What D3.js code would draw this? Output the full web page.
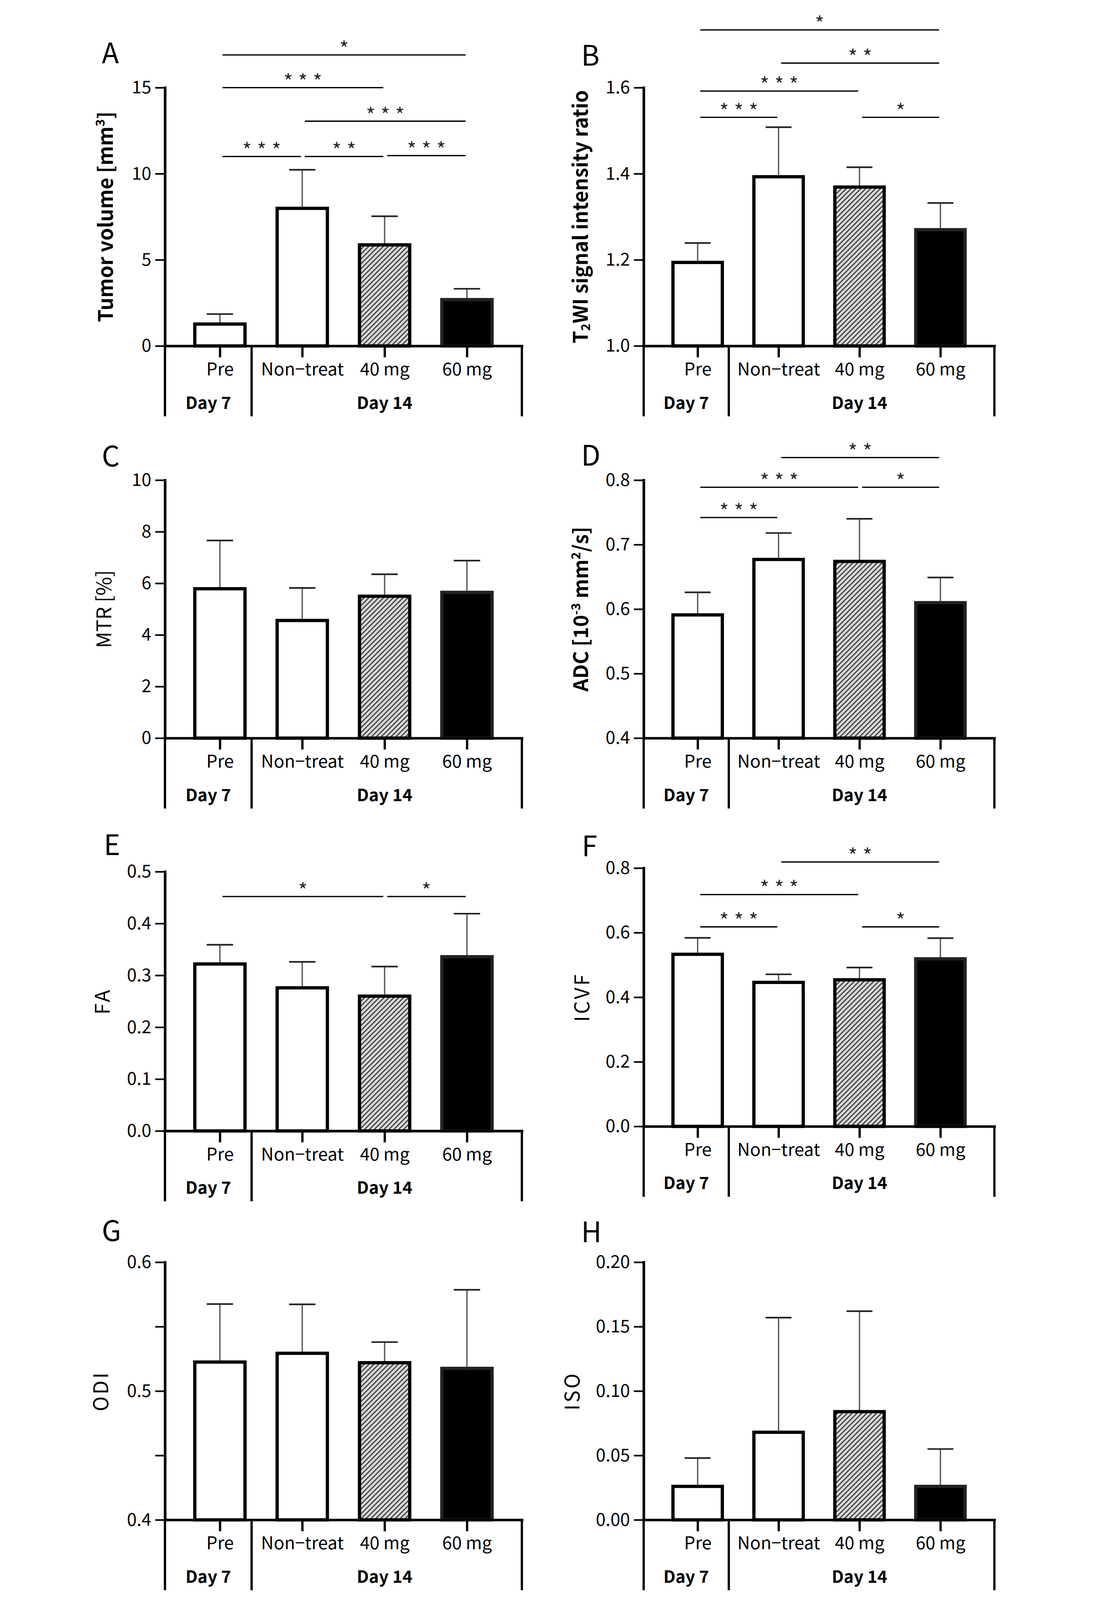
<!DOCTYPE html>
<html>
<head>
<meta charset="utf-8">
<script src="https://cdn.jsdelivr.net/npm/d3@7"></script>
<style>
  html, body { margin: 0; padding: 0; background: #fff; overflow: hidden; }
  text { font-family: 'Noto Sans CJK JP', 'Noto Sans', sans-serif; }
</style>
</head>
<body>
<div class="canvas"></div>
<script>
// categories
const groups = ['Pre', 'Non\u2212treat', '40 mg', '60 mg'];
const days = ['Day 7', 'Day 14'];

// A - tumor volume
const volumeMean = [1.27, 7.99, 5.87, 2.69];
const volumeSD = [0.58, 2.24, 1.66, 0.63];
const volumeTicks = [0, 5, 10, 15];
const volumeTickLabels = ['0', '5', '10', '15'];
const volumeSig = [[0, 3, 16.9, 1], [0, 2, 15.0, 3], [1, 3, 13.05, 3], [0, 1, 11.0, 3], [1, 2, 11.0, 2], [2, 3, 11.05, 3]];

// B - T2WI ratio
const t2Mean = [1.194, 1.393, 1.369, 1.270];
const t2SD = [0.045, 0.115, 0.046, 0.062];
const t2Ticks = [1.0, 1.2, 1.4, 1.6];
const t2TickLabels = ['1.0', '1.2', '1.4', '1.6'];
const t2Sig = [[0, 3, 1.734, 1], [1, 3, 1.657, 2], [0, 2, 1.592, 3], [0, 1, 1.531, 3], [2, 3, 1.531, 1]];

// C - MTR
const mtrMean = [5.79, 4.56, 5.50, 5.65];
const mtrSD = [1.87, 1.26, 0.85, 1.23];
const mtrTicks = [0, 2, 4, 6, 8, 10];
const mtrTickLabels = ['0', '2', '4', '6', '8', '10'];

// D - ADC
const adcMean = [0.591, 0.677, 0.674, 0.610];
const adcSD = [0.035, 0.041, 0.066, 0.039];
const adcTicks = [0.4, 0.5, 0.6, 0.7, 0.8];
const adcTickLabels = ['0.4', '0.5', '0.6', '0.7', '0.8'];
const adcSig = [[1, 3, 0.835, 2], [0, 2, 0.789, 3], [2, 3, 0.789, 1], [0, 1, 0.742, 3]];

// E - FA
const faMean = [0.322, 0.276, 0.260, 0.336];
const faSD = [0.037, 0.050, 0.057, 0.083];
const faTicks = [0, 0.1, 0.2, 0.3, 0.4, 0.5];
const faTickLabels = ['0.0', '0.1', '0.2', '0.3', '0.4', '0.5'];
const faSig = [[0, 2, 0.452, 1], [2, 3, 0.452, 1]];

// F - ICVF
const icvfMean = [0.533, 0.446, 0.454, 0.519];
const icvfSD = [0.051, 0.025, 0.038, 0.064];
const icvfTicks = [0, 0.2, 0.4, 0.6, 0.8];
const icvfTickLabels = ['0.0', '0.2', '0.4', '0.6', '0.8'];
const icvfSig = [[1, 3, 0.819, 2], [0, 2, 0.718, 3], [0, 1, 0.618, 3], [2, 3, 0.618, 1]];

// G - ODI
const odiMean = [0.5225, 0.5293, 0.522, 0.5176];
const odiSD = [0.045, 0.038, 0.016, 0.061];
const odiTicks = [0.4, 0.45, 0.5, 0.55, 0.6];
const odiTickLabels = ['0.4', '', '0.5', '', '0.6'];

// H - ISO
const isoMean = [0.026, 0.068, 0.084, 0.026];
const isoSD = [0.022, 0.089, 0.078, 0.029];
const isoTicks = [0, 0.05, 0.10, 0.15, 0.20];
const isoTickLabels = ['0.00', '0.05', '0.10', '0.15', '0.20'];

// drawing space; the svg is fitted into whatever the window gives
const width = 2827;
const height = 4882;
const topPad = 30; // room above the highest asterisk

const svg = d3.select('.canvas')
  .append('svg')
  .attr('width', window.innerWidth || width)
  .attr('height', window.innerHeight || height)
  .attr('viewBox', `0 ${-topPad} ${width} ${height + topPad}`)
  .attr('preserveAspectRatio', 'xMidYMin meet')
  .style('display', 'block');

svg.append('rect').attr('y', -topPad).attr('width', width).attr('height', height + topPad).attr('fill', '#fff');

// hatch for the 40 mg bars
const pat = svg.append('defs').append('pattern')
  .attr('id', 'hatch')
  .attr('patternUnits', 'userSpaceOnUse')
  .attr('width', 10.6)
  .attr('height', 10.6)
  .attr('patternTransform', 'rotate(45)');
pat.append('rect').attr('width', 10.6).attr('height', 10.6).attr('fill', '#dadada');
pat.append('line')
  .attr('x1', 2).attr('x2', 2).attr('y1', 0).attr('y2', 10.6)
  .attr('stroke', '#3c3c3c').attr('stroke-width', 3.6);

const barFills = ['#fff', '#fff', 'url(#hatch)', '#000'];

// column / row geometry
const cols = [{ x0: 225, x1: 1321 }, { x0: 1695, x1: 2772 }];

const panels = [
  { id: 'A', col: 0, top: 239, bottom: 1032, letterX: 31, letterY: 164, titleX: 65,
    mean: volumeMean, sd: volumeSD, domain: [0, 15], ticks: volumeTicks, tickLabels: volumeTickLabels, sig: volumeSig,
    title: [['Tumor volume [mm'], ['3', 'sup'], [']']], bold: true },
  { id: 'B', col: 1, top: 239, bottom: 1032, letterX: 1503, letterY: 172, titleX: 1523,
    mean: t2Mean, sd: t2SD, domain: [1.0, 1.6], ticks: t2Ticks, tickLabels: t2TickLabels, sig: t2Sig,
    title: [['T'], ['2', 'sub'], ['WI signal intensity ratio']], bold: true },
  { id: 'C', col: 0, top: 1444, bottom: 2236, letterX: 31, letterY: 1402, titleX: 60,
    mean: mtrMean, sd: mtrSD, domain: [0, 10], ticks: mtrTicks, tickLabels: mtrTickLabels, sig: [],
    title: [['MTR [%]']], bold: false, latin: true },
  { id: 'D', col: 1, top: 1444, bottom: 2236, letterX: 1503, letterY: 1399, titleX: 1525,
    mean: adcMean, sd: adcSD, domain: [0.4, 0.8], ticks: adcTicks, tickLabels: adcTickLabels, sig: adcSig,
    title: [['ADC [10'], ['-3', 'sup'], [' mm'], ['2', 'sup'], ['/s]']], bold: true },
  { id: 'E', col: 0, top: 2646, bottom: 3442, letterX: 37, letterY: 2595, titleX: 55,
    mean: faMean, sd: faSD, domain: [0, 0.5], ticks: faTicks, tickLabels: faTickLabels, sig: faSig,
    title: [['FA']], bold: false },
  { id: 'F', col: 1, top: 2635, bottom: 3428, letterX: 1505, letterY: 2599, titleX: 1528,
    mean: icvfMean, sd: icvfSD, domain: [0, 0.8], ticks: icvfTicks, tickLabels: icvfTickLabels, sig: icvfSig,
    title: [['ICVF']], bold: false },
  { id: 'G', col: 0, top: 3845, bottom: 4636, letterX: 31, letterY: 3780, titleX: 51,
    mean: odiMean, sd: odiSD, domain: [0.4, 0.6], ticks: odiTicks, tickLabels: odiTickLabels, sig: [],
    title: [['ODI']], bold: false },
  { id: 'H', col: 1, top: 3845, bottom: 4636, letterX: 1503, letterY: 3784, titleX: 1498,
    mean: isoMean, sd: isoSD, domain: [0, 0.2], ticks: isoTicks, tickLabels: isoTickLabels, sig: [],
    title: [['ISO']], bold: false }
];

const drawPanel = (p) => {
  const { x0, x1 } = cols[p.col];
  const g = svg.append('g').attr('class', 'panel-' + p.id);

  // scales
  const x = d3.scalePoint().domain(groups).range([x0, x1]).padding(0.667);
  const step = x.step();
  const y = d3.scaleLinear().domain(p.domain).range([p.bottom, p.top]);
  const barW = step * 0.61;
  const capW = step * 0.32;

  // error bars (upper only)
  const err = g.append('g').attr('class', 'errors');
  err.selectAll('line.stem')
    .data(groups)
    .join('line')
    .attr('class', 'stem')
    .attr('x1', d => x(d)).attr('x2', d => x(d))
    .attr('y1', (d, i) => y(p.mean[i]))
    .attr('y2', (d, i) => y(p.mean[i] + p.sd[i]))
    .attr('stroke', '#555')
    .attr('stroke-width', 4);
  err.selectAll('line.cap')
    .data(groups)
    .join('line')
    .attr('class', 'cap')
    .attr('x1', d => x(d) - capW / 2).attr('x2', d => x(d) + capW / 2)
    .attr('y1', (d, i) => y(p.mean[i] + p.sd[i]))
    .attr('y2', (d, i) => y(p.mean[i] + p.sd[i]))
    .attr('stroke', '#222')
    .attr('stroke-width', 5);

  // bars
  g.selectAll('rect.bar')
    .data(groups)
    .join('rect')
    .attr('class', 'bar')
    .attr('x', d => x(d) - barW / 2)
    .attr('y', (d, i) => y(p.mean[i]))
    .attr('width', barW)
    .attr('height', (d, i) => y(p.domain[0]) - y(p.mean[i]))
    .attr('fill', (d, i) => barFills[i])
    .attr('stroke', (d, i) => i === 3 ? '#222' : '#000')
    .attr('stroke-width', 10);

  // y axis
  const yAxis = d3.axisLeft(y)
    .tickValues(p.ticks)
    .tickFormat((d, i) => p.tickLabels[i])
    .tickSize(30)
    .tickSizeOuter(0)
    .tickPadding(12);
  const yAxisGroup = g.append('g')
    .attr('transform', `translate(${x0},0)`)
    .call(yAxis);
  yAxisGroup.select('.domain').attr('stroke-width', 8).attr('stroke-linecap', 'square');
  yAxisGroup.selectAll('.tick line').attr('stroke-width', 5);
  yAxisGroup.selectAll('text')
    .attr('font-size', 54)
    .attr('font-family', "'Noto Sans CJK JP', sans-serif")
    .attr('fill', '#000');

  // x axis with category labels
  const xAxis = d3.axisBottom(x).tickSize(35).tickSizeOuter(0).tickPadding(17);
  const xAxisGroup = g.append('g')
    .attr('transform', `translate(0,${p.bottom})`)
    .call(xAxis);
  xAxisGroup.select('.domain').attr('stroke-width', 8).attr('stroke-linecap', 'square');
  xAxisGroup.selectAll('.tick line').attr('stroke-width', 7);
  xAxisGroup.selectAll('text')
    .attr('font-size', 54)
    .attr('font-family', "'Noto Sans CJK JP', sans-serif")
    .attr('fill', '#000');

  // day boxes under the categories
  const sep = x(groups[0]) + step * 0.385;
  g.selectAll('line.box')
    .data([x0, sep, x1])
    .join('line')
    .attr('class', 'box')
    .attr('x1', d => d).attr('x2', d => d)
    .attr('y1', p.bottom).attr('y2', p.bottom + 216)
    .attr('stroke', '#000')
    .attr('stroke-width', 7);

  g.selectAll('text.day')
    .data(days)
    .join('text')
    .attr('class', 'day')
    .attr('x', (d, i) => i === 0 ? (x0 + sep) / 2 : x(groups[2]))
    .attr('y', p.bottom + 193)
    .attr('text-anchor', 'middle')
    .attr('font-size', 52)
    .attr('font-weight', 700)
    .text(d => d);

  // significance brackets
  const sig = g.selectAll('g.sig')
    .data(p.sig)
    .join('g')
    .attr('class', 'sig');
  sig.append('line')
    .attr('x1', d => x(groups[d[0]]) + 8)
    .attr('x2', d => x(groups[d[1]]) - 4)
    .attr('y1', d => y(d[2]))
    .attr('y2', d => y(d[2]))
    .attr('stroke', '#000')
    .attr('stroke-width', 4);
  sig.each(function(d) {
    const mid = (x(groups[d[0]]) + x(groups[d[1]])) / 2 + 2;
    d3.select(this).selectAll('text')
      .data(d3.range(d[3]))
      .join('text')
      .attr('x', i => mid + (i - (d[3] - 1) / 2) * 45)
      .attr('y', y(d[2]) + 4)
      .attr('text-anchor', 'middle')
      .attr('font-family', "'Liberation Sans', Arial, sans-serif")
      .attr('font-size', 62)
      .attr('fill', '#2a2a2a')
      .text('*');
  });

  // axis title
  const fs = 62;
  const title = g.append('text')
    .attr('transform', `translate(${p.titleX},${(p.top + p.bottom) / 2}) rotate(-90)`)
    .attr('text-anchor', 'middle')
    .attr('dy', '0.36em')
    .attr('font-size', fs)
    .attr('font-weight', p.bold ? 700 : 400)
    .attr('font-family', p.bold || p.latin ? "'Liberation Sans', Arial, sans-serif" : "'Noto Sans CJK JP', sans-serif")
    .attr('letter-spacing', p.bold || p.latin ? 0 : 6);
  let shift = 0;
  p.title.forEach(seg => {
    const ts = title.append('tspan').text(seg[0]);
    let target = 0;
    if (seg[1] === 'sup') target = -fs * 0.4;
    if (seg[1] === 'sub') target = fs * 0.12;
    if (seg[1]) ts.attr('font-size', fs * 0.62);
    ts.attr('dy', target - shift);
    shift = target;
  });

  // panel letter
  g.append('text')
    .attr('x', p.letterX)
    .attr('y', p.letterY)
    .attr('font-family', "'Noto Sans', sans-serif")
    .attr('font-size', 86)
    .text(p.id);
};

panels.forEach(drawPanel);
</script>
</body>
</html>
